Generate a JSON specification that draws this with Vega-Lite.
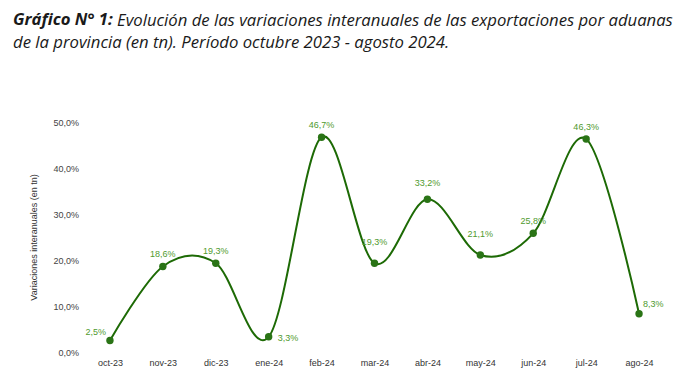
{
  "$schema": "https://vega.github.io/schema/vega-lite/v6.json",
  "autosize": {"type": "none"},
  "width": 582,
  "height": 230,
  "padding": {"left": 83.5, "top": 122, "right": 30.5, "bottom": 28},
  "background": "white",
  "title": {
    "text": "Gráfico N° 1:",
    "subtitle": ["\u200b\u00a0\u00a0\u00a0\u00a0\u00a0\u00a0\u00a0\u00a0\u00a0\u00a0\u00a0\u00a0\u00a0\u00a0\u00a0\u00a0\u00a0\u00a0\u00a0\u00a0\u00a0\u00a0\u00a0\u00a0Evolución de las variaciones interanuales de las exportaciones por aduanas", "de la provincia (en tn). Período octubre 2023 - agosto 2024."],
    "anchor": "start",
    "frame": "group",
    "dx": -70.5,
    "offset": 66.5,
    "font": "Open Sans",
    "fontSize": 16.7,
    "fontStyle": "italic",
    "fontWeight": "bold",
    "color": "#1a1a1a",
    "lineHeight": 22,
    "subtitleFont": "Open Sans",
    "subtitleFontSize": 16.7,
    "subtitleFontStyle": "italic",
    "subtitleFontWeight": "normal",
    "subtitleColor": "#1a1a1a",
    "subtitleLineHeight": 22,
    "subtitlePadding": -16
  },
  "config": {
    "view": {"stroke": null},
    "locale": {"number": {"decimal": ",", "thousands": ".", "grouping": [3], "currency": ["", ""]}},
    "axis": {"labelFont": "Liberation Sans", "titleFont": "Liberation Sans"}
  },
  "data": {
    "values": [
      {"mes": "oct-23", "v": 0.025},
      {"mes": "nov-23", "v": 0.186},
      {"mes": "dic-23", "v": 0.193},
      {"mes": "ene-24", "v": 0.033},
      {"mes": "feb-24", "v": 0.467},
      {"mes": "mar-24", "v": 0.193},
      {"mes": "abr-24", "v": 0.332},
      {"mes": "may-24", "v": 0.211},
      {"mes": "jun-24", "v": 0.258},
      {"mes": "jul-24", "v": 0.463},
      {"mes": "ago-24", "v": 0.083}
    ]
  },
  "encoding": {
    "x": {
      "field": "mes", "type": "ordinal", "sort": null,
      "scale": {"type": "point", "padding": 0.5},
      "axis": {"title": null, "labelAngle": 0, "domain": false, "ticks": false, "grid": false,
               "labelFontSize": 9, "labelColor": "#333333", "labelPadding": 6}
    },
    "y": {
      "field": "v", "type": "quantitative",
      "scale": {"domain": [0, 0.5], "nice": false},
      "axis": {"title": "Variaciones interanuales (en tn)", "format": ".1%", "values": [0, 0.1, 0.2, 0.3, 0.4, 0.5],
               "domain": false, "ticks": false, "grid": false,
               "labelFontSize": 9, "labelColor": "#444444", "labelPadding": 5,
               "titleFontSize": 9, "titleFontWeight": "normal", "titleColor": "#333333", "titlePadding": 14}
    }
  },
  "layer": [
    {"mark": {"type": "line", "interpolate": "cardinal", "color": "#1d6a05", "strokeWidth": 2}},
    {"mark": {"type": "point", "filled": true, "opacity": 1, "size": 55, "color": "#2a7416"}},
    {
      "transform": [{"filter": "indexof(['nov-23','dic-23','feb-24','jun-24','jul-24'], datum.mes) >= 0"}],
      "mark": {"type": "text", "dy": -12, "fontSize": 9, "font": "Liberation Sans", "color": "#4f9a2e"},
      "encoding": {"text": {"field": "v", "type": "quantitative", "format": ".1%"}}
    },
    {
      "transform": [{"filter": "datum.mes == 'abr-24'"}],
      "mark": {"type": "text", "dy": -16, "fontSize": 9, "font": "Liberation Sans", "color": "#4f9a2e"},
      "encoding": {"text": {"field": "v", "type": "quantitative", "format": ".1%"}}
    },
    {
      "transform": [{"filter": "indexof(['mar-24','may-24'], datum.mes) >= 0"}],
      "mark": {"type": "text", "dy": -21, "fontSize": 9, "font": "Liberation Sans", "color": "#4f9a2e"},
      "encoding": {"text": {"field": "v", "type": "quantitative", "format": ".1%"}}
    },
    {
      "transform": [{"filter": "datum.mes == 'oct-23'"}],
      "mark": {"type": "text", "align": "right", "dx": -4, "dy": -9, "fontSize": 9, "font": "Liberation Sans", "color": "#4f9a2e"},
      "encoding": {"text": {"field": "v", "type": "quantitative", "format": ".1%"}}
    },
    {
      "transform": [{"filter": "datum.mes == 'ene-24'"}],
      "mark": {"type": "text", "align": "left", "dx": 9, "dy": 1, "fontSize": 9, "font": "Liberation Sans", "color": "#4f9a2e"},
      "encoding": {"text": {"field": "v", "type": "quantitative", "format": ".1%"}}
    },
    {
      "transform": [{"filter": "datum.mes == 'ago-24'"}],
      "mark": {"type": "text", "align": "left", "dx": 4, "dy": -10, "fontSize": 9, "font": "Liberation Sans", "color": "#4f9a2e"},
      "encoding": {"text": {"field": "v", "type": "quantitative", "format": ".1%"}}
    }
  ]
}
